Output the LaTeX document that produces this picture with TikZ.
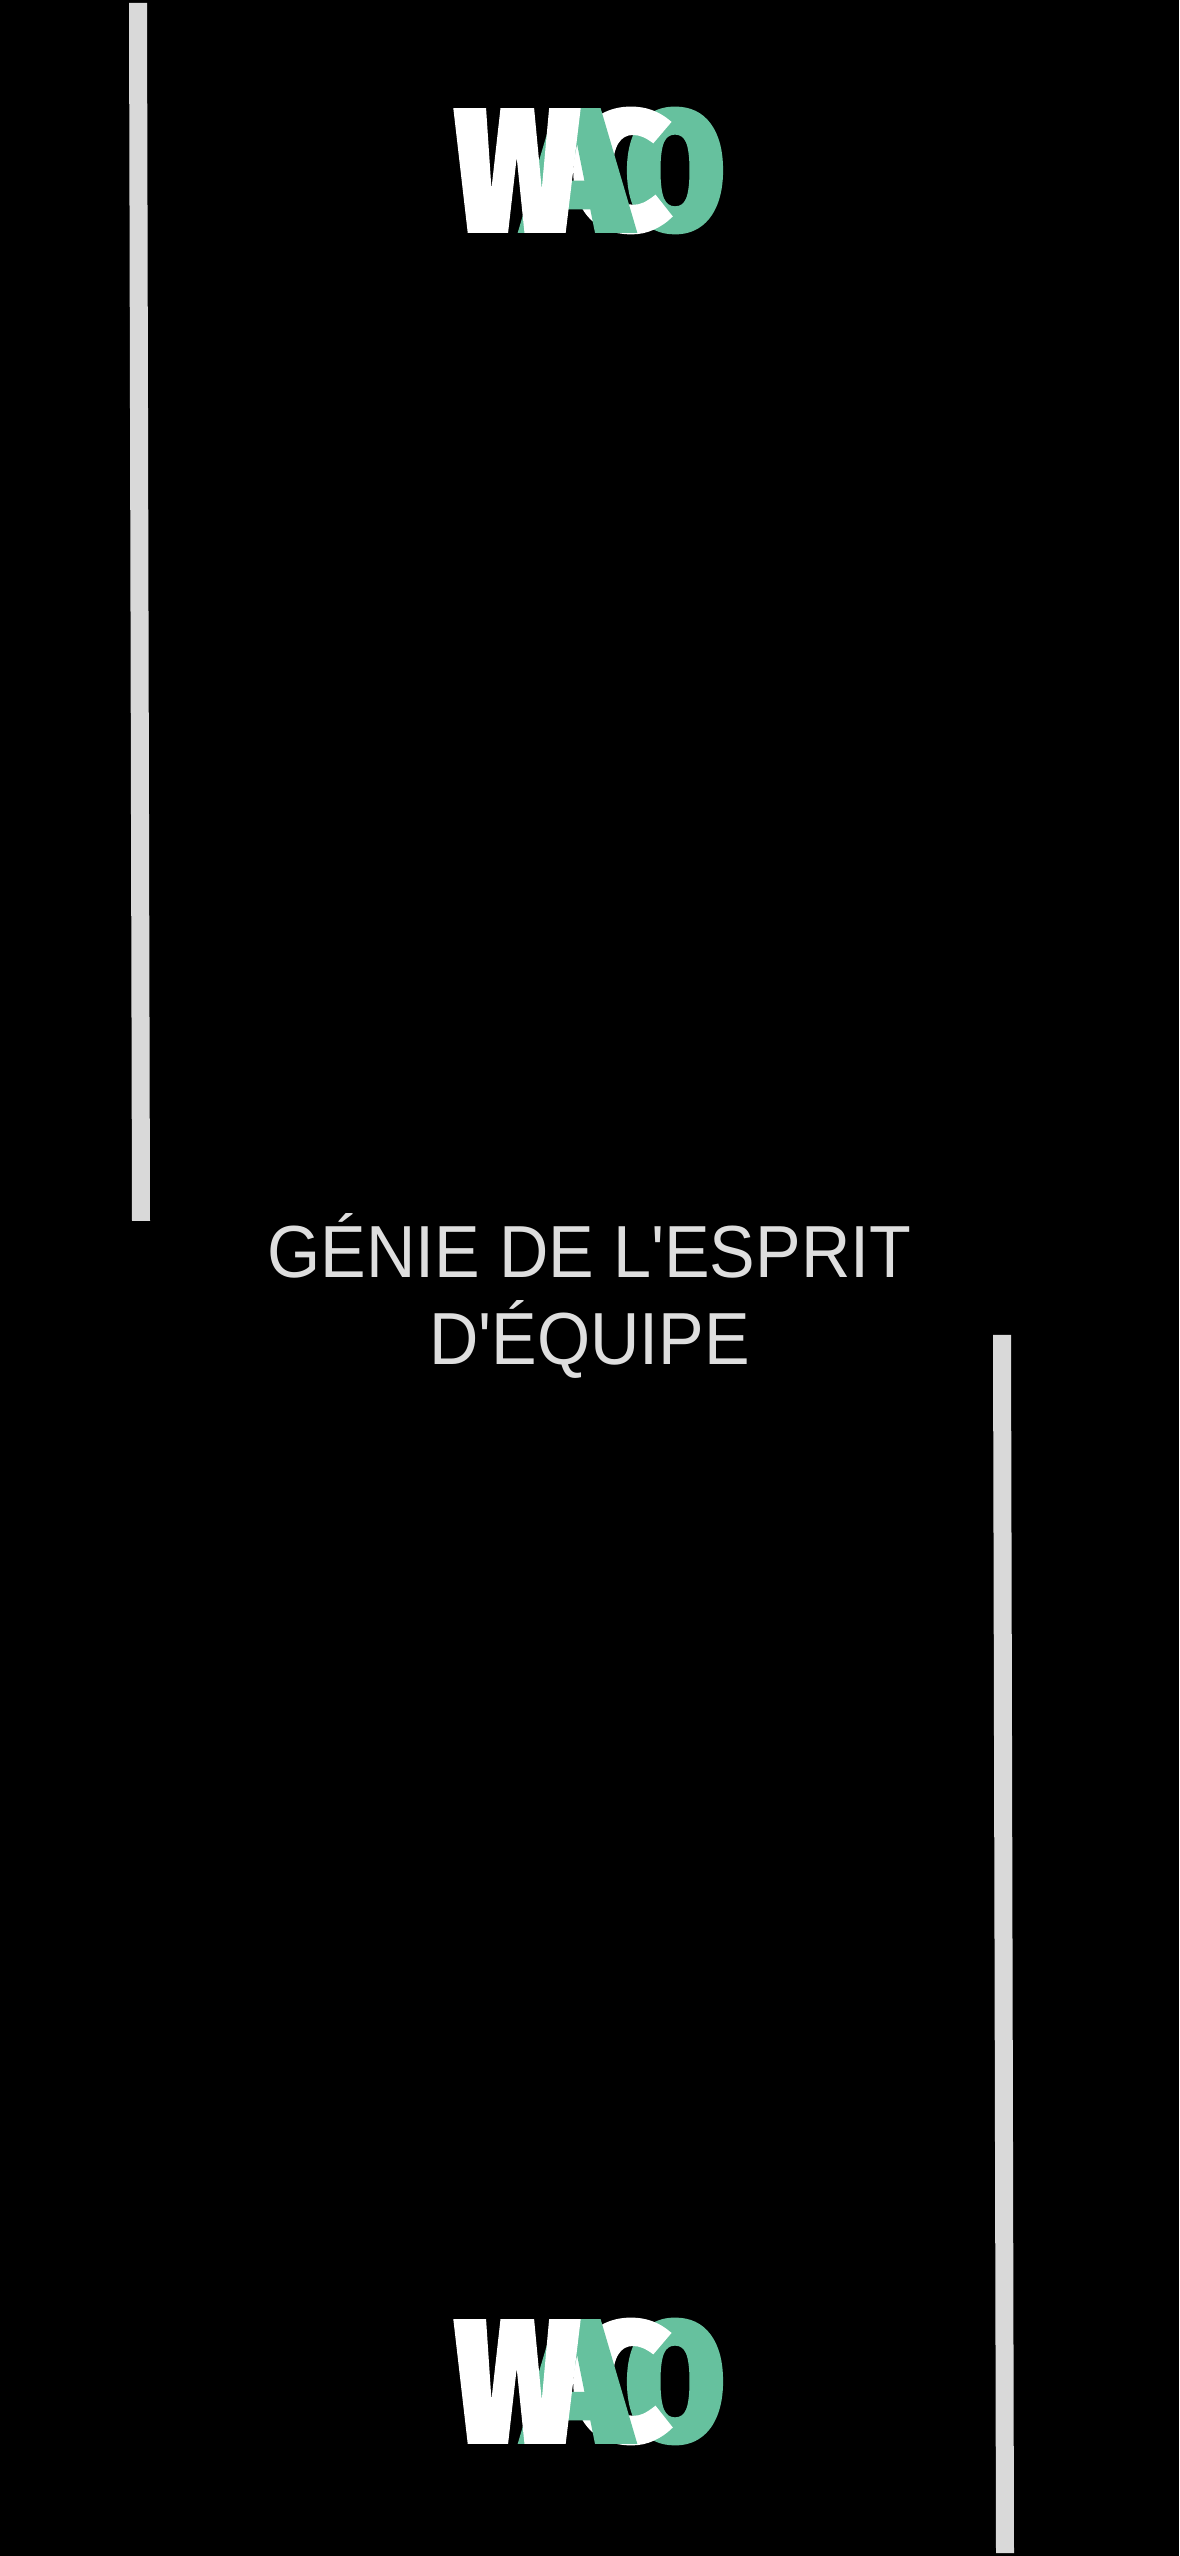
\documentclass[tikz,border=0pt]{standalone}
\usepackage{fontspec}
\usepackage{xcolor}
\usepackage{graphicx}
\newfontfamily\titlefont{Liberation Sans}[FakeStretch=0.926]
\newfontfamily\logofont{Fira Sans Black}[FakeBold=2]
\definecolor{logogreen}{HTML}{66C19E}
\definecolor{barwhite}{HTML}{D9D9D9}
\definecolor{titlegrey}{HTML}{DEDEDE}
\tikzset{
  logoletter/.style={inner sep=0pt, outer sep=0pt, anchor=center},
  titletext/.style={font=\titlefont\fontsize{42}{49.5}\selectfont, color=titlegrey, align=center, inner sep=0pt}
}
\begin{document}
\begin{tikzpicture}
  \useasboundingbox (0,0) rectangle (23.58,51.12);
  \fill[black] (0,0) rectangle (23.58,51.12);
  % side bars
  \foreach \xa/\ya/\xb/\yb in {2.58/51.06/2.64/26.70, 19.86/24.42/19.92/0.06} {
    \fill[barwhite] (\xa,\ya) -- ++(0.36,0) -- (\xb+0.36,\yb) -- (\xb,\yb) -- cycle;
  }
  % logo, twice
  \foreach \y/\nm in {47.71/top, 3.49/bot} {
    \node[logoletter] (o\nm) at (13.50,\y) {\resizebox{1.98cm}{2.42cm}{\color{logogreen}\logofont O}};
    \node[logoletter] (c\nm) at (12.42,\y) {\resizebox{1.98cm}{2.42cm}{\color{white}\logofont C}};
    \node[logoletter] (a\nm) at (11.55,\y) {\resizebox{2.12cm}{2.42cm}{\color{logogreen}\logofont A}};
    \node[logoletter] (w\nm) at (10.34,\y) {\resizebox{2.48cm}{2.42cm}{\color{white}\logofont W}};
  }
  \node[titletext] (title) at (11.79,25.2) {GÉNIE DE L'ESPRIT\\D'ÉQUIPE};
\end{tikzpicture}
\end{document}
